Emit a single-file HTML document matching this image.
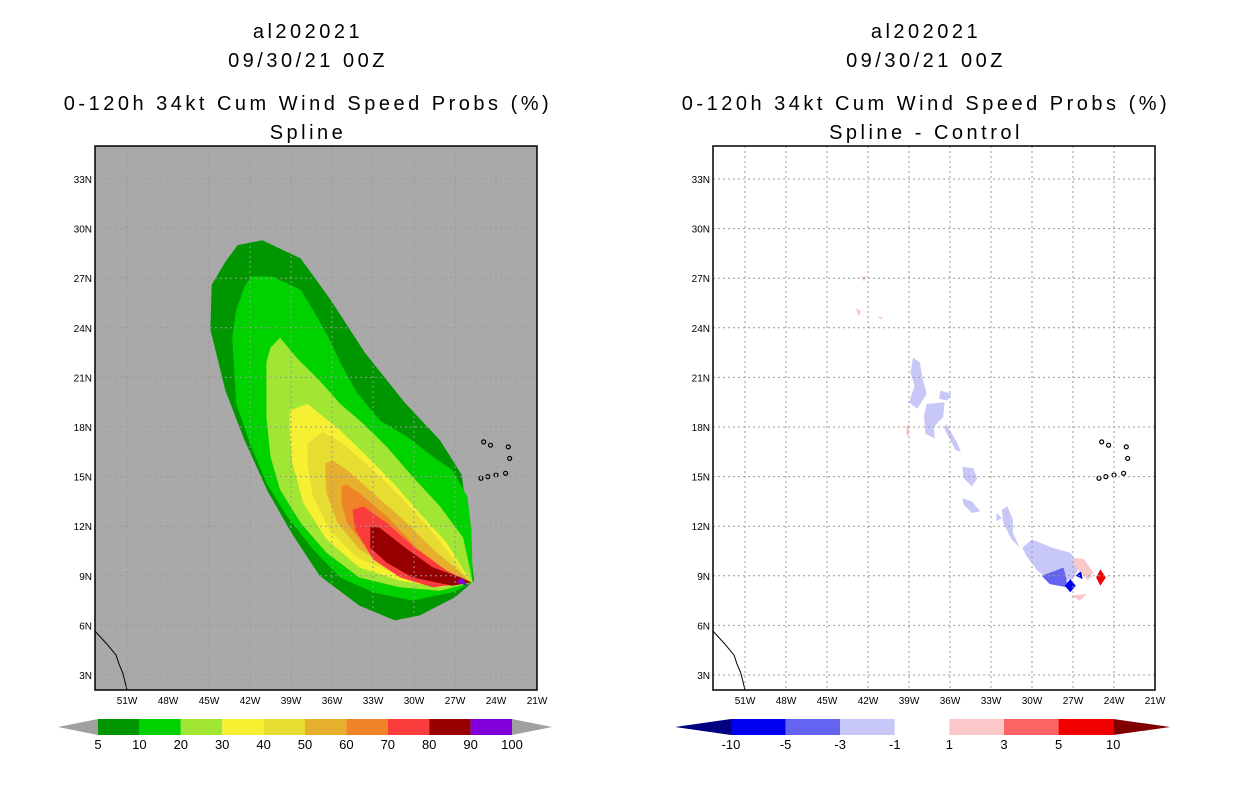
<!DOCTYPE html>
<html><head><meta charset="utf-8">
<style>
body{margin:0;background:#fff;}
svg{display:block;font-family:"Liberation Sans",sans-serif;}
.t{font-size:20px;letter-spacing:3.5px;text-anchor:middle;fill:#000;}
.tk{font-size:10px;fill:#000;}
.cb{font-size:13px;text-anchor:middle;fill:#000;}
</style></head>
<body>
<svg id="s" width="1236" height="800" viewBox="0 0 1236 800">
<text class="t" x="308" y="38">al202021</text>
<text class="t" x="308" y="67">09/30/21 00Z</text>
<text class="t" x="308" y="110">0-120h 34kt Cum Wind Speed Probs (%)</text>
<text class="t" x="308" y="139">Spline</text>
<text class="t" x="926" y="38">al202021</text>
<text class="t" x="926" y="67">09/30/21 00Z</text>
<text class="t" x="926" y="110">0-120h 34kt Cum Wind Speed Probs (%)</text>
<text class="t" x="926" y="139">Spline - Control</text>
<defs>
<clipPath id="cl"><rect x="95" y="146" width="442" height="544"/></clipPath>
<clipPath id="cr"><rect x="713" y="146" width="442" height="544"/></clipPath>
</defs>
<g id="L" clip-path="url(#cl)"></g>
<g id="R" clip-path="url(#cr)"></g>
<g id="axes"></g>
</svg>
<script>
// ---- data ----
const latTicks = [33,30,27,24,21,18,15,12,9,6,3];
const lonTicks = [51,48,45,42,39,36,33,30,27,24,21];
const probLevels = [5,10,20,30,40,50,60,70,80,90,100];
const probColors = ["#009600","#00d200","#a0e632","#f5f032","#e6dc32","#e6af2d","#f08228","#fa3c3c","#960000","#8200dc"];
const diffLevels = [-10,-5,-3,-1,1,3,5,10];
const diffColors = ["#0000f0","#6464f0","#c8c8f8","#ffffff","#fac8c8","#fa6464","#f00000"];
// contours [lonW, latN]
const c5 = [[42.9,29.0],[41.1,29.3],[38.3,28.2],[36.1,25.7],[33.6,22.5],[30.7,19.5],[28.1,17.2],[26.5,15.1],[26.1,12.4],[25.6,8.7],[27.0,7.7],[29.6,6.6],[31.4,6.3],[34.0,7.2],[36.9,9.0],[38.9,11.5],[40.7,14.1],[42.4,17.2],[43.8,20.2],[44.9,23.9],[44.8,26.6],[43.8,28.0]];
const c10 = [[41.9,27.1],[40.4,27.1],[38.3,26.3],[37.4,25.1],[36.3,23.5],[35.4,21.9],[34.2,20.1],[32.5,18.4],[30.5,17.4],[28.6,16.2],[27.2,15.4],[26.1,13.8],[25.8,11.8],[25.7,8.6],[27.2,8.0],[30.1,7.5],[33.0,8.0],[35.4,8.9],[37.4,10.6],[39.3,12.6],[40.8,14.6],[42.0,17.0],[43.0,19.4],[43.3,23.4],[43.0,25.1],[42.4,26.5]];
const c20 = [[39.8,23.4],[38.6,22.2],[36.9,20.8],[35.4,19.4],[33.7,18.2],[32.0,16.8],[30.1,15.0],[28.1,13.2],[26.4,11.3],[25.7,8.6],[28.1,8.1],[31.0,8.3],[34.0,8.9],[36.4,10.4],[38.3,12.2],[39.8,14.2],[40.5,16.2],[40.8,18.6],[40.8,21.9],[40.5,22.8]];
const c30 = [[39.1,19.0],[37.8,19.4],[36.9,18.8],[35.4,17.8],[33.4,16.2],[31.5,14.6],[29.6,12.8],[27.6,11.0],[25.9,8.7],[28.1,8.3],[31.0,8.7],[34.0,9.5],[36.4,11.2],[38.1,13.4],[38.9,15.8],[39.1,17.8]];
const c40 = [[37.8,17.0],[36.7,17.7],[35.2,17.0],[33.0,15.4],[31.0,13.8],[28.8,11.8],[26.9,9.8],[25.9,8.6],[28.6,8.6],[31.5,9.2],[34.2,10.1],[36.2,11.8],[37.4,13.8],[37.8,15.8]];
const c50 = [[36.5,15.8],[36.0,16.0],[34.9,15.4],[33.0,14.0],[30.8,12.4],[28.6,10.6],[26.6,9.2],[25.8,8.6],[28.6,8.6],[31.2,9.3],[34.0,10.6],[35.6,12.2],[36.4,14.0]];
const c60 = [[35.3,14.4],[34.9,14.5],[34.0,14.0],[32.0,12.6],[29.8,10.7],[27.6,9.3],[25.8,8.6],[28.6,8.6],[31.0,9.3],[33.4,10.6],[34.9,12.2],[35.3,13.4]];
const c70 = [[34.5,13.0],[33.7,13.2],[32.0,12.2],[29.8,10.6],[27.6,9.3],[25.8,8.6],[28.6,8.3],[31.0,8.9],[33.0,10.0],[34.3,11.8]];
const c80 = [[33.2,12.0],[32.5,11.9],[30.5,10.6],[28.6,9.5],[26.6,8.9],[25.8,8.6],[27.2,8.4],[30.1,8.9],[32.0,9.8],[33.2,10.7]];
const c90 = [[26.9,8.6],[26.5,8.9],[26.1,8.4]];
const probContours = [c5,c10,c20,c30,c40,c50,c60,c70,c80,c90];
// difference blobs [lonW, latN]
const dLight = [
 [[30.7,10.7],[30.0,11.2],[28.5,10.7],[27.2,10.4],[26.5,9.6],[27.0,8.8],[28.5,8.6],[29.6,9.3],[30.4,10.2]],
 [[32.2,13.0],[31.8,13.2],[31.4,12.4],[31.4,11.6],[30.9,10.7],[31.5,11.2],[32.1,12.2]],
 [[35.1,15.6],[34.3,15.5],[34.0,14.9],[34.4,14.4],[35.0,14.9]],
 [[35.1,13.7],[34.4,13.5],[33.8,12.9],[34.4,12.8],[35.0,13.3]],
 [[38.7,22.2],[38.2,21.9],[38.0,20.9],[37.7,20.0],[38.4,19.1],[39.0,19.5],[38.6,20.5],[38.9,21.3]],
 [[37.7,19.4],[36.4,19.5],[36.5,18.6],[37.2,18.0],[37.1,17.3],[37.8,17.6],[37.9,18.7]],
 [[36.4,17.9],[35.6,16.6],[35.2,16.5],[35.5,17.1],[36.3,18.2]],
 [[36.7,20.2],[35.9,20.0],[36.2,19.6],[36.8,19.7]],
 [[32.6,12.8],[32.2,12.5],[32.6,12.3]]
];
const dMid = [[[29.3,9.0],[28.3,9.3],[27.7,9.5],[27.5,8.9],[27.4,8.3],[28.7,8.5]]];
const dBlue = [[[27.6,8.4],[27.2,8.8],[26.8,8.4],[27.2,8.0]],[[26.8,9.0],[26.4,9.3],[26.3,8.8]]];
const dPink = [
 [[27.0,10.1],[26.2,10.0],[25.5,9.2],[25.9,8.7],[26.4,9.2],[26.9,9.6]],
 [[27.2,7.8],[26.0,7.9],[26.5,7.5]],
 [[42.5,27.1],[42.1,27.1],[42.3,26.8]],
 [[42.9,25.2],[42.5,25.0],[42.7,24.7]],
 [[41.3,24.7],[40.9,24.6],[41.1,24.5]],
 [[39.2,18.1],[39.0,18.1],[39.0,17.5],[39.2,17.5]]
];
const dRed = [[[25.3,8.9],[25.0,9.4],[24.6,8.9],[25.0,8.4]]];
const coast = [[53.5,5.8],[52.5,4.9],[51.8,4.2],[51.6,3.7],[51.3,3.1],[51.0,2.1]];
const islands = [[24.9,17.1],[24.4,16.9],[23.1,16.8],[23.0,16.1],[24.6,15.0],[24.0,15.1],[23.3,15.2],[25.1,14.9]];

// ---- axes ----
const W0=51, PXLON=410/30, LAT0=33, PXLAT=496/30;
function xs(lon,off){return off+127+(W0-lon)*PXLON;}
function ys(lat){return 179+(LAT0-lat)*PXLAT;}
const NS="http://www.w3.org/2000/svg";
function mk(tag,attrs,parent){const e=document.createElementNS(NS,tag);for(const k in attrs)e.setAttribute(k,attrs[k]);parent.appendChild(e);return e;}
function pts(poly,off){return poly.map(p=>xs(p[0],off).toFixed(1)+","+ys(p[1]).toFixed(1)).join(" ");}

const gL=document.getElementById("L"), gR=document.getElementById("R"), gA=document.getElementById("axes");
const bg=mk("rect",{x:95,y:146,width:442,height:544,fill:"#a9a9a9"},gL);


probContours.forEach((c,i)=>{
  const p=mk("polygon",{points:pts(c,0),fill:probColors[i]},gL);
  
  
});
function blobs(list,color,name){
  list.forEach(b=>{
    const p=mk("polygon",{points:pts(b,618),fill:color},gR);
    
    
  });
}
blobs(dLight,diffColors[2],'diff-blob-minus1-to-minus3');
blobs(dMid,diffColors[1],'diff-blob-minus3-to-minus5');
blobs(dBlue,diffColors[0],'diff-blob-minus5-to-minus10');
blobs(dPink,diffColors[4],'diff-blob-1-to-3');
blobs(dRed,diffColors[6],'diff-blob-5-to-10');

[[0,gL],[618,gR]].forEach(([off,g],k)=>{
  const side=k?'right':'left';
  const cl=mk("polyline",{points:pts(coast,off),fill:"none",stroke:"#000","stroke-width":1},g);
  
  
  islands.forEach(p=>{
    const c=mk("circle",{cx:xs(p[0],off),cy:ys(p[1]),r:2,fill:"none",stroke:"#000","stroke-width":1.2},g);
    
    
  });
  latTicks.forEach(t=>{
    const l=mk("line",{x1:95+off,x2:537+off,y1:ys(t),y2:ys(t),stroke:"#999","stroke-dasharray":"2,3"},gA);
    
    
    const tx=mk("text",{x:92+off,y:ys(t)+4,"text-anchor":"end",class:"tk"},gA);
    tx.textContent=t+"N";
    
    
  });
  lonTicks.forEach(t=>{
    if(t>21){
      const l=mk("line",{x1:xs(t,off),x2:xs(t,off),y1:146,y2:690,stroke:"#999","stroke-dasharray":"2,3"},gA);
      
      
    }
    const tx=mk("text",{x:xs(t,off),y:704,"text-anchor":"middle",class:"tk"},gA);
    tx.textContent=t+"W";
    
    
  });
  const fr=mk("rect",{x:95+off,y:146,width:442,height:544,fill:"none",stroke:"#000","stroke-width":1.5},gA);
  
  
});

// colorbars
function cbx(i,x0,step){return x0+i*step;}
(function(){
  const x0=98, step=41.4, y=719, h=16;
  const a1=mk("polygon",{points:`58,${y+h/2} ${x0},${y} ${x0},${y+h}`,fill:"#a0a0a0"},gA);
  
  
  const xe=cbx(probColors.length,x0,step);
  const a2=mk("polygon",{points:`${xe},${y} ${xe+40},${y+h/2} ${xe},${y+h}`,fill:"#a0a0a0"},gA);
  
  
  probColors.forEach((c,i)=>{
    const r=mk("rect",{x:cbx(i,x0,step),y:y,width:step,height:h,fill:c},gA);
    
    
  });
  probLevels.forEach((v,i)=>{
    const t=mk("text",{x:cbx(i,x0,step),y:y+h+14,class:"cb"},gA);
    t.textContent=v;
    
    
  });
})();
(function(){
  const x0=731, step=54.6, y=719, h=16;
  const a1=mk("polygon",{points:`675,${y+h/2} ${x0},${y} ${x0},${y+h}`,fill:"#000080"},gA);
  
  
  const xe=cbx(diffColors.length,x0,step);
  const a2=mk("polygon",{points:`${xe},${y} ${xe+57},${y+h/2} ${xe},${y+h}`,fill:"#800000"},gA);
  
  
  diffColors.forEach((c,i)=>{
    const r=mk("rect",{x:cbx(i,x0,step),y:y,width:step,height:h,fill:c},gA);
    
    
  });
  diffLevels.forEach((v,i)=>{
    const t=mk("text",{x:cbx(i,x0,step),y:y+h+14,class:"cb"},gA);
    t.textContent=v;
    
    
  });
})();
</script>
</body></html>
